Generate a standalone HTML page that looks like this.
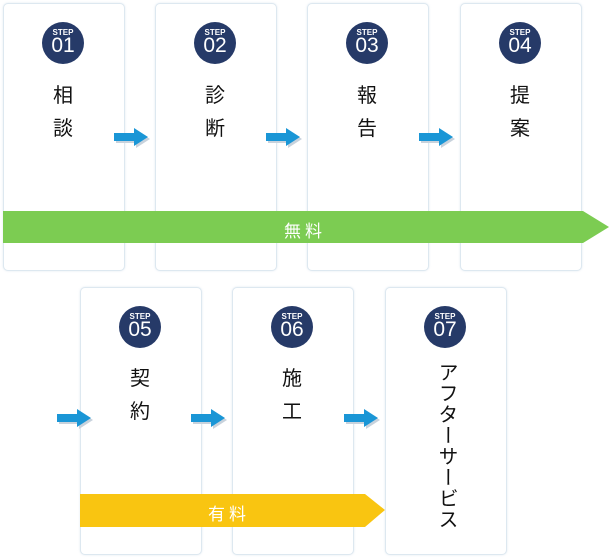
<!DOCTYPE html>
<html><head><meta charset="utf-8"><style>
body{margin:0;width:611px;height:560px;background:#fff;position:relative;overflow:hidden;font-family:"Liberation Sans","Noto Sans CJK JP",sans-serif}
.card{position:absolute;width:122px;height:268px;border:1px solid #dde8f0;border-radius:5px;background:#fff;box-sizing:border-box;box-shadow:0 0 2px rgba(180,200,220,.4)}
.c{position:absolute;width:42px;height:42px;border-radius:50%;background:#263a68;color:#fff;text-align:center}
.c .s{position:absolute;top:6px;left:0;width:42px;font-size:8px;font-weight:bold;line-height:9px}
.c .n{position:absolute;top:13px;left:0;width:42px;font-size:21px;line-height:22px}
.t{position:absolute;font-size:20px;line-height:33px;color:#111;width:30px;text-align:center}
.bar{position:absolute;color:#fff;font-size:17px;letter-spacing:4px}
</style></head><body>
<div class="card" style="left:3px;top:3px"></div>
<div class="card" style="left:155px;top:3px"></div>
<div class="card" style="left:307px;top:3px"></div>
<div class="card" style="left:460px;top:3px"></div>
<div class="card" style="left:80px;top:287px"></div>
<div class="card" style="left:232px;top:287px"></div>
<div class="card" style="left:385px;top:287px"></div>

<div class="c" style="left:42px;top:22px"><div class="s">STEP</div><div class="n">01</div></div>
<div class="c" style="left:194px;top:22px"><div class="s">STEP</div><div class="n">02</div></div>
<div class="c" style="left:346px;top:22px"><div class="s">STEP</div><div class="n">03</div></div>
<div class="c" style="left:499px;top:22px"><div class="s">STEP</div><div class="n">04</div></div>
<div class="c" style="left:119px;top:306px"><div class="s">STEP</div><div class="n">05</div></div>
<div class="c" style="left:271px;top:306px"><div class="s">STEP</div><div class="n">06</div></div>
<div class="c" style="left:424px;top:306px"><div class="s">STEP</div><div class="n">07</div></div>

<div class="t" style="left:48px;top:80px">相<br>談</div>
<div class="t" style="left:200px;top:80px">診<br>断</div>
<div class="t" style="left:352px;top:80px">報<br>告</div>
<div class="t" style="left:505px;top:80px">提<br>案</div>
<div class="t" style="left:125px;top:363px">契<br>約</div>
<div class="t" style="left:277px;top:363px">施<br>工</div>
<div style="position:absolute;left:434px;top:362px;writing-mode:vertical-rl;font-size:20px;line-height:24px;letter-spacing:1px;color:#111">アフターサービス</div>

<svg style="position:absolute;left:0;top:0" width="611" height="560">
<defs><g id="a"><polygon points="1,4 21,4 21,-1 35,8 21,17 21,12 1,12" fill="#c8d2dc" transform="translate(1,1)"/><polygon points="0,3 20,3 20,-2 34,7 20,16 20,11 0,11" fill="#1a96d6"/></g></defs>
<use href="#a" x="114" y="130"/>
<use href="#a" x="266" y="130"/>
<use href="#a" x="419" y="130"/>
<use href="#a" x="57" y="411"/>
<use href="#a" x="191" y="411"/>
<use href="#a" x="344" y="411"/>
<polygon points="3,211 583,211 609,227 583,243 3,243" fill="#7ccc52"/>
<polygon points="80,494 365,494 385,510 365,527 80,527" fill="#f9c511"/>
</svg>
<div class="bar" style="left:284px;top:217px">無料</div>
<div class="bar" style="left:208px;top:500px">有料</div>
</body></html>
